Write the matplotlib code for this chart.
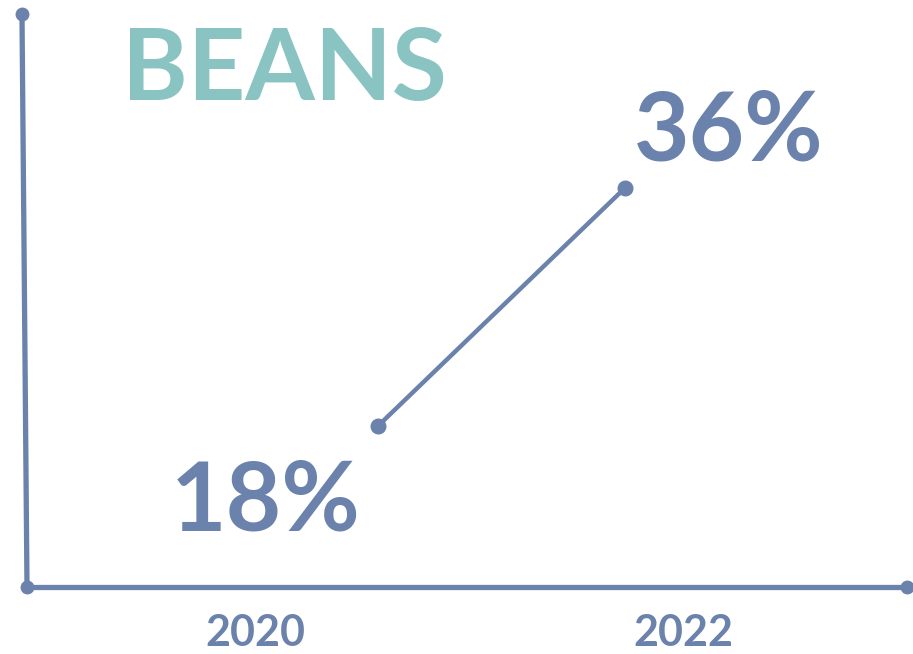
import matplotlib
matplotlib.use("Agg")
import matplotlib.pyplot as plt

# data
years = ["2020", "2022"]
shares = [18, 36]
share_labels = ["18%", "36%"]
title = "BEANS"

BLUE = "#6b82ad"
TEAL = "#8ac4c2"

plt.rcParams["font.family"] = ["Lato", "DejaVu Sans"]
plt.rcParams["font.weight"] = "bold"

W, H = 913, 654
fig = plt.figure(figsize=(W / 100, H / 100), dpi=100)
ax = fig.add_axes([27 / W, (H - 587) / H, 880 / W, 573 / H])

x = list(range(len(shares)))
ax.plot(x, shares, color=BLUE, lw=3.2, marker="o", ms=10.5,
        solid_capstyle="round", zorder=3)
ax.set_xlim(-1.421, 2.142)
ax.set_ylim(5.82, 49.16)

# hand-drawn style axes with round end markers
for s in ax.spines.values():
    s.set_visible(False)
ax.plot([-0.0057, 0.0], [1.0, 0.0], transform=ax.transAxes, color=BLUE,
        lw=3.8, clip_on=False, zorder=2)
ax.plot([0.0, 1.0], [0.0, 0.0], transform=ax.transAxes, color=BLUE,
        lw=3.8, clip_on=False, zorder=2)
ax.plot([-0.0057, 0.0, 1.0], [1.0, 0.0, 0.0], transform=ax.transAxes,
        ls="none", marker="o", ms=9, color=BLUE, clip_on=False, zorder=2)

ax.set_yticks([])
ax.set_xticks([-0.498, 1.235])
ax.set_xticklabels(years, fontsize=31, color=BLUE, fontweight="bold")
ax.tick_params(axis="x", length=0, pad=19)

offsets = [(-81, -75), (75, 20)]
for xi, v, lab, off in zip(x, shares, share_labels, offsets):
    ax.annotate(lab, (xi, v), xytext=off, textcoords="offset points",
                ha="center", va="baseline", fontsize=69, fontweight="bold",
                color=BLUE, annotation_clip=False)

fig.text(284 / W, (H - 100) / H, title, ha="center", va="baseline",
         fontsize=72, fontweight="bold", color=TEAL)

fig.savefig("out.png", dpi=100)
